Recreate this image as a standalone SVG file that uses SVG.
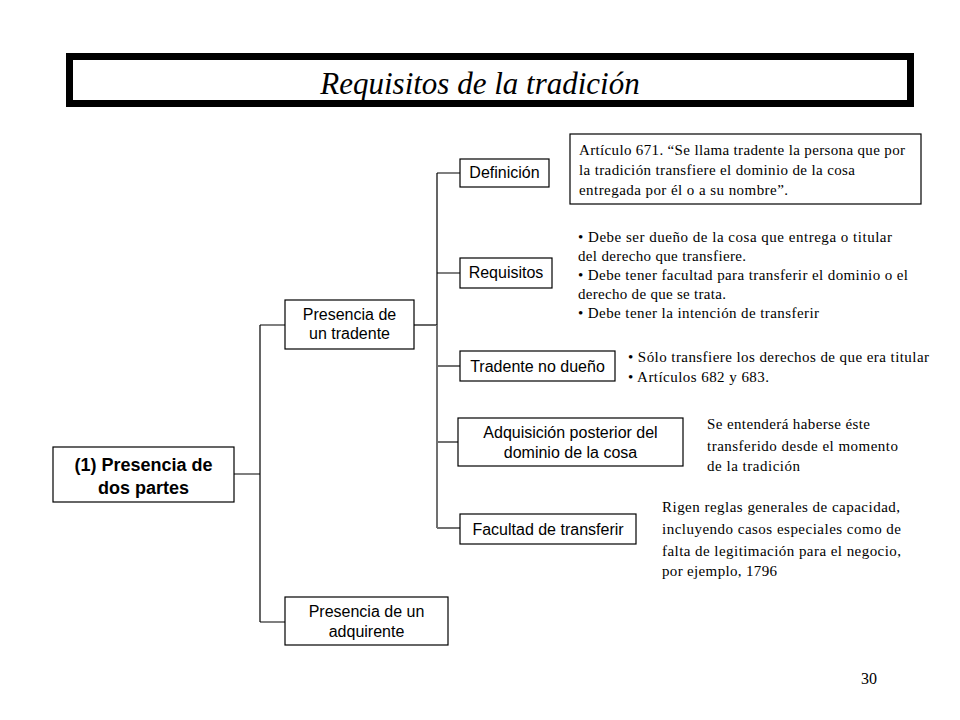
<svg xmlns="http://www.w3.org/2000/svg" width="960" height="720" viewBox="0 0 960 720">
<style>
.box{fill:#fff;stroke:#000;stroke-width:1.2}
.sans{font-family:"Liberation Sans",Arial,sans-serif;font-size:16px;fill:#000;text-anchor:middle}
.bold{font-weight:bold;font-size:18px}
.serif{font-family:"Liberation Serif","Times New Roman",serif;font-size:15px;fill:#000}
.ln{stroke:#000;stroke-width:1.2;fill:none}
.lg{stroke:#707070;stroke-width:2;fill:none}
</style>
<rect width="960" height="720" fill="#fff"/>
<g id="title">
<rect x="69.5" y="56.5" width="841" height="47" fill="#fff" stroke="#000" stroke-width="7"/>
<text x="480" y="94" font-family="'Liberation Serif','Times New Roman',serif" font-style="italic" font-size="31" text-anchor="middle">Requisitos de la tradición</text>
</g>
<g id="connectors">
<path class="ln" d="M234 474H260M260 325V622M260 325H285M260 622H285"/>
<path class="ln" d="M414 325H437" stroke-width="2"/>
<path class="ln" d="M437 173V330M437 173H460M437 273H460"/>
<path class="lg" d="M437 325V528M437 366H460M437 442H458M437 528H460"/>
</g>
<g id="n-root">
<rect class="box" x="53" y="447" width="181" height="55"/>
<text class="sans bold" x="143.5" y="471">(1) Presencia de</text>
<text class="sans bold" x="143.5" y="494">dos partes</text>
</g>
<g id="n-tradente">
<rect class="box" x="285" y="300" width="129" height="49"/>
<text class="sans" x="349.5" y="320" font-size="15">Presencia de</text>
<text class="sans" x="349.5" y="339" font-size="15">un tradente</text>
</g>
<g id="n-adquirente">
<rect class="box" x="285" y="597" width="163" height="48"/>
<text class="sans" x="366.5" y="617" font-size="15">Presencia de un</text>
<text class="sans" x="366.5" y="637" font-size="15">adquirente</text>
</g>
<g id="n-definicion">
<rect class="box" x="460" y="159" width="89" height="28"/>
<text class="sans" x="504.5" y="178" font-size="15">Definición</text>
</g>
<g id="n-requisitos">
<rect class="box" x="460" y="258" width="92" height="30"/>
<text class="sans" x="506" y="278" font-size="15">Requisitos</text>
</g>
<g id="n-nodueno">
<rect class="box" x="460" y="351" width="155" height="30"/>
<text class="sans" x="537.5" y="372">Tradente no dueño</text>
</g>
<g id="n-adquisicion">
<rect class="box" x="458" y="418" width="225" height="48"/>
<text class="sans" x="570.5" y="438">Adquisición  posterior del</text>
<text class="sans" x="570.5" y="458">dominio de la cosa</text>
</g>
<g id="n-facultad">
<rect class="box" x="460" y="514" width="176" height="30"/>
<text class="sans" x="548" y="535">Facultad de transferir</text>
</g>
<g id="t-definicion">
<rect class="box" x="570" y="134" width="351" height="70"/>
<text class="serif" x="579" y="155" textLength="326" lengthAdjust="spacing">Artículo 671. “Se llama tradente la persona que por</text>
<text class="serif" x="579" y="175" textLength="276" lengthAdjust="spacing">la tradición transfiere el dominio de la cosa</text>
<text class="serif" x="579" y="195" textLength="209" lengthAdjust="spacing">entregada por él o a su nombre”.</text>
</g>
<g id="t-requisitos">
<text class="serif" x="578" y="242" textLength="314" lengthAdjust="spacing">• Debe ser dueño de la cosa que entrega o titular</text>
<text class="serif" x="578" y="261" textLength="168" lengthAdjust="spacing">del derecho que transfiere.</text>
<text class="serif" x="578" y="280" textLength="330" lengthAdjust="spacing">• Debe tener facultad para transferir el dominio o el</text>
<text class="serif" x="578" y="299" textLength="148" lengthAdjust="spacing">derecho de que se trata.</text>
<text class="serif" x="578" y="318" textLength="241" lengthAdjust="spacing">• Debe tener la intención de transferir</text>
</g>
<g id="t-nodueno">
<text class="serif" x="628" y="362" textLength="301" lengthAdjust="spacing">• Sólo transfiere los derechos de que era titular</text>
<text class="serif" x="628" y="382" textLength="141" lengthAdjust="spacing">• Artículos 682 y 683.</text>
</g>
<g id="t-adquisicion">
<text class="serif" x="707" y="429" textLength="163" lengthAdjust="spacing">Se entenderá haberse éste</text>
<text class="serif" x="707" y="451" textLength="191" lengthAdjust="spacing">transferido desde el momento</text>
<text class="serif" x="707" y="471" textLength="93" lengthAdjust="spacing">de la tradición</text>
</g>
<g id="t-facultad">
<text class="serif" x="662" y="512" textLength="238" lengthAdjust="spacing">Rigen reglas generales de capacidad,</text>
<text class="serif" x="662" y="534" textLength="239" lengthAdjust="spacing">incluyendo casos especiales como de</text>
<text class="serif" x="662" y="556" textLength="239" lengthAdjust="spacing">falta de legitimación para el negocio,</text>
<text class="serif" x="662" y="576" textLength="115" lengthAdjust="spacing">por ejemplo, 1796</text>
</g>
<text x="861" y="684" font-family="'Liberation Serif','Times New Roman',serif" font-size="16">30</text>
</svg>
